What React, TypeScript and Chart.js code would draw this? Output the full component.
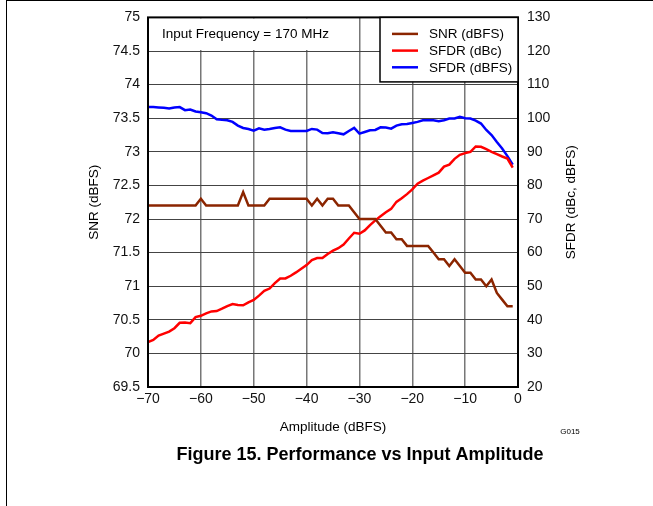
import React, { useEffect, useRef } from 'react';
import { Chart, registerables } from 'chart.js';

Chart.register(...registerables);

const FONT = '"Liberation Sans", Arial, Helvetica, sans-serif';

// Input amplitude (dBFS)
const amplitude = [
  -70, -69, -68, -67, -66, -65, -64, -63, -62, -61,
  -60, -59, -58, -57, -56, -55, -54, -53, -52, -51,
  -50, -49, -48, -47, -46, -45, -44, -43, -42, -41,
  -40, -39, -38, -37, -36, -35, -34, -33, -32, -31,
  -30, -29, -28, -27, -26, -25, -24, -23, -22, -21,
  -20, -19, -18, -17, -16, -15, -14, -13, -12, -11,
  -10, -9, -8, -7, -6, -5, -4, -3, -2, -1,
];

// SNR (dBFS) - left axis
const snr = [
  72.2, 72.2, 72.2, 72.2, 72.2, 72.2, 72.2, 72.2, 72.2, 72.2,
  72.3, 72.2, 72.2, 72.2, 72.2, 72.2, 72.2, 72.2, 72.4, 72.2,
  72.2, 72.2, 72.2, 72.3, 72.3, 72.3, 72.3, 72.3, 72.3, 72.3,
  72.3, 72.2, 72.3, 72.2, 72.3, 72.3, 72.2, 72.2, 72.2, 72.1,
  72.0, 72.0, 72.0, 72.0, 71.9, 71.8, 71.8, 71.7, 71.7, 71.6,
  71.6, 71.6, 71.6, 71.6, 71.5, 71.4, 71.4, 71.3, 71.4, 71.3,
  71.2, 71.2, 71.1, 71.1, 71.0, 71.1, 70.9, 70.8, 70.7, 70.7,
];

// SFDR (dBc) - right axis
const sfdrDbc = [
  33.4, 34.0, 35.3, 35.9, 36.5, 37.5, 39.1, 39.2, 39.0, 40.8,
  41.2, 41.9, 42.5, 42.6, 43.3, 44.1, 44.7, 44.4, 44.3, 45.2,
  45.9, 47.2, 48.6, 49.3, 50.9, 52.3, 52.3, 53.1, 54.1, 55.2,
  56.3, 57.8, 58.4, 58.4, 59.6, 60.6, 61.3, 62.4, 64.2, 65.9,
  65.6, 66.6, 68.2, 69.6, 70.8, 72.0, 73.0, 75.1, 76.2, 77.4,
  78.8, 80.5, 81.4, 82.2, 83.0, 83.8, 85.6, 86.2, 87.9, 89.1,
  89.6, 90.0, 91.6, 91.5, 90.8, 90.0, 89.3, 88.6, 88.0, 85.3,
];

// SFDR (dBFS) - right axis
const sfdrDbfs = [
  103.3, 103.3, 103.2, 103.1, 102.9, 103.2, 103.3, 102.4, 102.6, 102.0,
  101.8, 101.5, 100.8, 99.7, 99.5, 99.4, 98.9, 97.8, 97.1, 96.8,
  96.3, 97.0, 96.6, 96.8, 97.1, 97.3, 96.6, 96.2, 96.2, 96.2,
  96.2, 96.8, 96.6, 95.6, 95.5, 95.8, 95.5, 95.2, 96.2, 97.1,
  95.4, 95.9, 96.4, 96.5, 97.3, 97.2, 96.9, 97.8, 98.2, 98.3,
  98.6, 98.9, 99.4, 99.4, 99.4, 99.1, 99.4, 99.9, 99.9, 100.4,
  100.0, 99.9, 99.3, 98.4, 96.5, 95.0, 92.9, 91.0, 88.7, 86.2,
];

const seriesLabels = ['SNR (dBFS)', 'SFDR (dBc)', 'SFDR (dBFS)'];
const seriesColors = ['#8B2500', '#FF0000', '#0000FF'];

const xTitle = 'Amplitude (dBFS)';
const yLeftTitle = 'SNR (dBFS)';
const yRightTitle = 'SFDR (dBc, dBFS)';
const infoText = 'Input Frequency = 170 MHz';
const figId = 'G015';
const caption = 'Figure 15. Performance vs Input Amplitude';

const decorPlugin = {
  id: 'decor',
  beforeDatasetsDraw(chart: any) {
    const { ctx, chartArea: a, scales } = chart;
    const xs = scales.x;
    const ys = scales.y;
    const bx1 = xs.getPixelForValue(-30) - 1;
    const by1 = ys.getPixelForValue(74.5) - 1;
    ctx.save();
    ctx.fillStyle = '#fff';
    ctx.fillRect(a.left + 1, a.top + 1, bx1 - a.left - 1, by1 - a.top - 1);
    ctx.fillStyle = '#000';
    ctx.font = `13.5px ${FONT}`;
    ctx.textAlign = 'left';
    ctx.textBaseline = 'middle';
    ctx.fillText(infoText, a.left + 14, (a.top + by1) / 2 + 1);
    ctx.restore();
  },
  afterDatasetsDraw(chart: any) {
    const { ctx, chartArea: a } = chart;
    ctx.save();
    // frame
    ctx.strokeStyle = '#000';
    ctx.lineWidth = 2;
    ctx.strokeRect(a.left, a.top, a.right - a.left, a.bottom - a.top);

    // legend box
    const lx0 = a.right - 138;
    const ly1 = a.top + 64.5;
    ctx.fillStyle = '#fff';
    ctx.fillRect(lx0, a.top, a.right - lx0, ly1 - a.top);
    ctx.lineWidth = 1.5;
    ctx.strokeRect(lx0, a.top, a.right - lx0, ly1 - a.top);
    ctx.font = `13.5px ${FONT}`;
    ctx.textAlign = 'left';
    ctx.textBaseline = 'middle';
    chart.data.datasets.forEach((ds: any, i: number) => {
      const yy = a.top + 16.5 + i * 16.7;
      ctx.strokeStyle = ds.borderColor;
      ctx.lineWidth = 2.5;
      ctx.beginPath();
      ctx.moveTo(lx0 + 12, yy);
      ctx.lineTo(lx0 + 38, yy);
      ctx.stroke();
      ctx.fillStyle = '#000';
      ctx.fillText(ds.label, lx0 + 49, yy + 0.5);
    });

    // axis titles
    const cy = (a.top + a.bottom) / 2;
    ctx.fillStyle = '#000';
    ctx.font = `13.5px ${FONT}`;
    ctx.textAlign = 'center';
    ctx.textBaseline = 'middle';
    ctx.save();
    ctx.translate(a.left - 54, cy);
    ctx.rotate(-Math.PI / 2);
    ctx.fillText(yLeftTitle, 0, 0);
    ctx.restore();
    ctx.save();
    ctx.translate(a.right + 53, cy);
    ctx.rotate(-Math.PI / 2);
    ctx.fillText(yRightTitle, 0, 0);
    ctx.restore();
    ctx.fillText(xTitle, (a.left + a.right) / 2, a.bottom + 40);

    ctx.font = `8px ${FONT}`;
    ctx.fillText(figId, a.right + 52, a.bottom + 45);

    ctx.font = `bold 18px ${FONT}`;
    ctx.fillText(caption, 360, a.bottom + 68);
    ctx.restore();
  },
};

export default function App() {
  const ref = useRef<HTMLCanvasElement | null>(null);

  useEffect(() => {
    if (!ref.current) return;
    const series = [snr, sfdrDbc, sfdrDbfs];
    const axes = ['y', 'y2', 'y2'];
    const chart = new Chart(ref.current, {
      type: 'line',
      data: {
        datasets: series.map((s, i) => ({
          label: seriesLabels[i],
          data: amplitude.map((x, j) => ({ x, y: s[j] })),
          yAxisID: axes[i],
          borderColor: seriesColors[i],
          backgroundColor: seriesColors[i],
          borderWidth: 2.5,
          pointRadius: 0,
          tension: 0,
          fill: false,
        })),
      },
      options: {
        responsive: false,
        animation: false,
        devicePixelRatio: 1,
        layout: { padding: { top: 17, left: 0, right: 0, bottom: 0 } },
        plugins: {
          legend: { display: false },
          tooltip: { enabled: false },
          title: { display: false },
        },
        scales: {
          x: {
            type: 'linear',
            min: -70,
            max: 0,
            ticks: {
              stepSize: 10,
              padding: 4,
              color: '#111',
              font: { family: FONT, size: 14 },
              maxRotation: 0,
              callback: (v: any) => String(v).replace('-', '\u2212'),
            },
            grid: { color: '#777', lineWidth: 1.5, drawTicks: false },
            border: { display: false },
            afterFit: (s: any) => { s.height = 119; },
          },
          y: {
            position: 'left',
            min: 69.5,
            max: 75,
            ticks: {
              stepSize: 0.5,
              padding: 8,
              color: '#111',
              font: { family: FONT, size: 14 },
              callback: (v: any) => String(v),
            },
            grid: { color: '#444', lineWidth: 1, drawTicks: false },
            border: { display: false },
            afterFit: (s: any) => { s.width = 148; },
          },
          y2: {
            position: 'right',
            min: 20,
            max: 130,
            ticks: {
              stepSize: 10,
              padding: 9,
              color: '#111',
              font: { family: FONT, size: 14 },
              callback: (v: any) => String(v),
            },
            grid: { display: false, drawTicks: false },
            border: { display: false },
            afterFit: (s: any) => { s.width = 135; },
          },
        },
      },
      plugins: [decorPlugin],
    } as any);
    return () => chart.destroy();
  }, []);

  return (
    <div style={{ position: 'absolute', left: 0, top: 0, width: 653, height: 506, background: '#fff' }}>
      <canvas ref={ref} width={653} height={506} style={{ position: 'absolute', left: 0, top: 0 }} />
      <div
        style={{
          position: 'absolute',
          left: 6,
          top: 0,
          right: 0,
          bottom: 0,
          borderTop: '1px solid #000',
          borderLeft: '1px solid #000',
          pointerEvents: 'none',
        }}
      />
    </div>
  );
}
